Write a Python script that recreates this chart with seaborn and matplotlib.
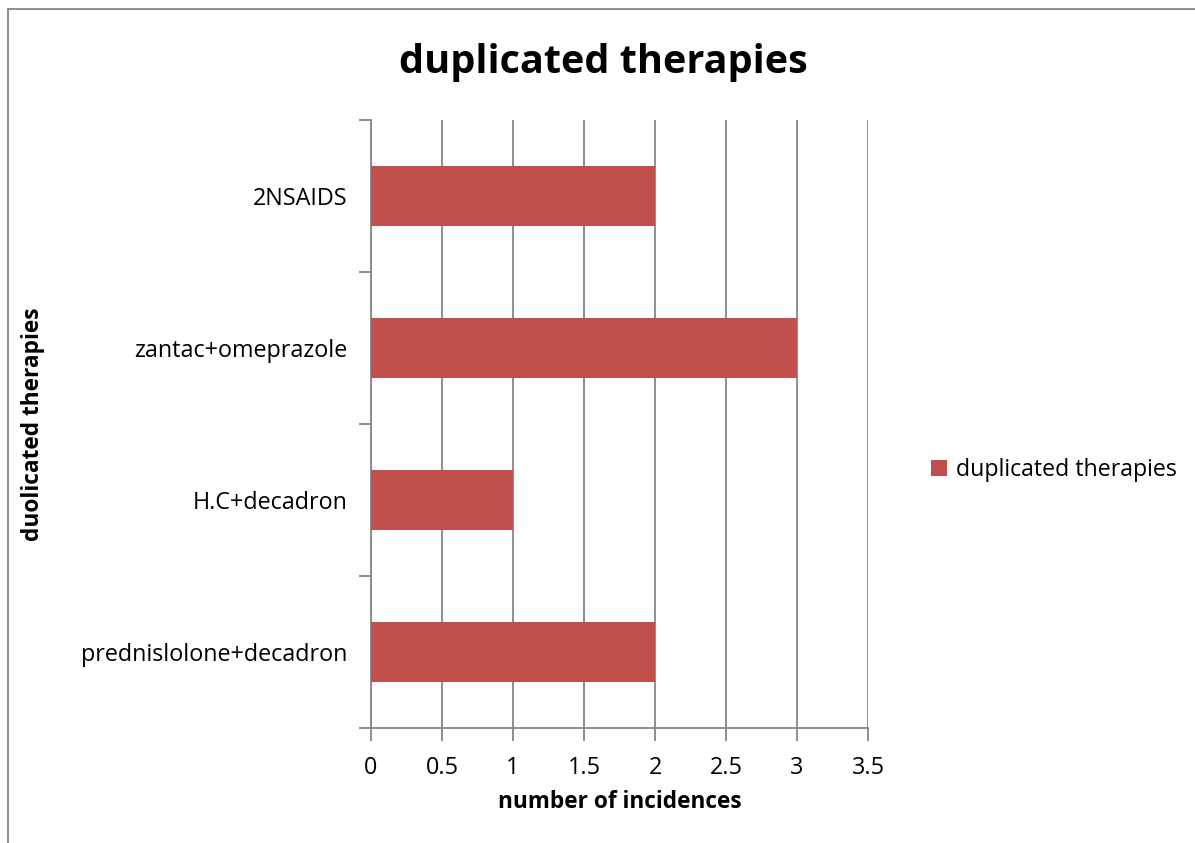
import matplotlib
matplotlib.use("Agg")
import matplotlib.pyplot as plt
import seaborn as sns
import pandas as pd
from matplotlib.patches import Patch
from matplotlib.lines import Line2D

categories = ["2NSAIDS", "zantac+omeprazole", "H.C+decadron", "prednislolone+decadron"]
values = [2, 3, 1, 2]
series_name = "duplicated therapies"
x_ticks = [0, 0.5, 1, 1.5, 2, 2.5, 3, 3.5]
x_tick_labels = ["0", "0.5", "1", "1.5", "2", "2.5", "3", "3.5"]

sns.set_style("white")
plt.rcParams["font.family"] = ["Open Sans", "DejaVu Sans"]
plt.rcParams["text.color"] = "black"
plt.rcParams["xtick.color"] = "black"
plt.rcParams["ytick.color"] = "black"
plt.rcParams["axes.labelcolor"] = "black"

df = pd.DataFrame({"therapy": categories, "count": values})

fig = plt.figure(figsize=(11.95, 8.43), dpi=100)
ax = fig.add_axes([371/1195, 1-728/843, (868-371)/1195, (728-120)/843])

sns.barplot(data=df, y="therapy", x="count", order=categories, color="#C0504D",
            saturation=1, width=0.4, ax=ax, zorder=3, linewidth=0, edgecolor="none")

ax.set_xlim(0, 3.5)
ax.set_ylim(3.5, -0.5)
ax.set_xticks(x_ticks)
ax.set_xticklabels(x_tick_labels, fontsize=16.8)
ax.grid(axis="x", color="#868686", linewidth=1.3, zorder=0)
ax.grid(axis="y", visible=False)
for s in ["top", "right"]:
    ax.spines[s].set_visible(False)
for s in ["left", "bottom"]:
    ax.spines[s].set_color("#868686")
    ax.spines[s].set_linewidth(1.3)

# y ticks at category boundaries
ax.set_yticks([0, 1, 2, 3])
ax.set_yticklabels(categories, fontsize=16.8)
ax.set_yticks([-0.5, 0.5, 1.5, 2.5, 3.5], minor=True)
ax.tick_params(axis="y", which="major", length=0, pad=17)
ax.tick_params(axis="y", which="minor", length=9, width=1.3, color="#868686", direction="out", left=True)
ax.tick_params(axis="x", which="major", length=9, width=1.3, color="#868686", direction="out", bottom=True, pad=11)

ax.set_xlabel("number of incidences", fontsize=16.3, fontweight="bold", va="center")
ax.xaxis.set_label_coords(0.5, (728-802)/608)
ax.set_ylabel("duolicated therapies", fontsize=16.3, fontweight="bold", va="center")
ax.yaxis.set_label_coords((33-371)/497, 0.5)

fig.text(603/1195, 1-63/843, "duplicated therapies", fontsize=28.5, fontweight="bold",
         ha="center", va="center")

handles = [Patch(facecolor="#C0504D", edgecolor="none", label=series_name)]
fig.legend(handles=handles, loc="center left", bbox_to_anchor=(910/1195, 1-470/843),
           frameon=False, fontsize=16.7, handlelength=0.7, handleheight=0.7, handletextpad=0.4)

# figure border (left and top)
fig.add_artist(Line2D([8/1195, 8/1195], [0, 1-9/843], transform=fig.transFigure, color="#868686", linewidth=1.3))
fig.add_artist(Line2D([8/1195, 1], [1-9/843, 1-9/843], transform=fig.transFigure, color="#868686", linewidth=1.3))

fig.savefig("out.png", dpi=100)
